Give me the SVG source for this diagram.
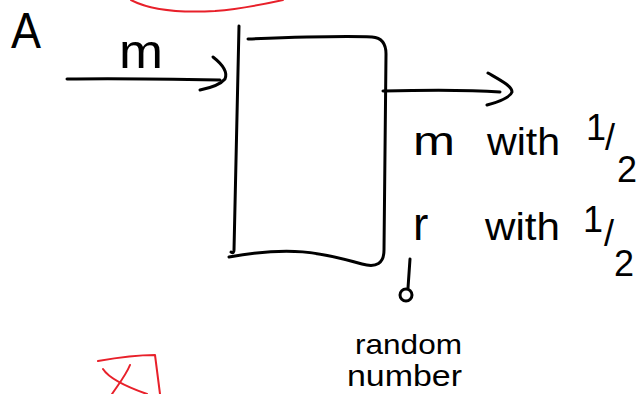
<svg xmlns="http://www.w3.org/2000/svg" width="642" height="394" viewBox="0 0 642 394">
<style>
.ink{fill:none;stroke:#000;stroke-width:3;stroke-linecap:round;stroke-linejoin:round}
.red{fill:none;stroke:#e8202a;stroke-width:2;stroke-linecap:round;stroke-linejoin:round}
.t{font-family:"Liberation Sans",Arial,sans-serif;fill:#000}
</style>
<rect width="642" height="394" fill="#fff"/>
<g id="scribbles">
<path class="red" d="M131,0 C150,10 180,13 215,11 C240,9 265,4 283,0"/>
<path class="red" d="M98,361 C115,358 140,355 155,355 L160,394"/>
<path class="red" d="M103,369 C110,380 130,388 147,394"/>
<path class="red" d="M130,365 C126,375 118,385 112,394"/>
</g>
<g id="label-A"><text class="t" x="11" y="48" font-size="50" textLength="30" lengthAdjust="spacingAndGlyphs">A</text></g>
<g id="box">
<path class="ink" d="M239,26 L234,250 Q234,254 231,252"/>
<path class="ink" d="M248,39 C300,37 350,36 372,37 Q386,38 386,54 L384,250 Q384,270 362,264 C320,252 290,246 229,257" stroke-width="3.5"/>
</g>
<g id="input-label"><text class="t" x="119" y="68" font-size="48" textLength="44" lengthAdjust="spacingAndGlyphs">m</text></g>
<g id="out1">
<text class="t" x="413" y="155" font-size="40" textLength="42" lengthAdjust="spacingAndGlyphs">m</text>
<text class="t" x="487" y="155" font-size="38" textLength="73" lengthAdjust="spacingAndGlyphs">with</text>
<text class="t" font-size="36"><tspan x="586" y="140">1</tspan><tspan x="605" y="150">/</tspan><tspan x="617" y="182">2</tspan></text>
</g>
<g id="out2">
<text class="t" x="413" y="240" font-size="46">r</text>
<text class="t" x="485" y="240" font-size="38" textLength="75" lengthAdjust="spacingAndGlyphs">with</text>
<text class="t" font-size="36"><tspan x="583" y="232">1</tspan><tspan x="604" y="246">/</tspan><tspan x="614" y="276">2</tspan></text>
</g>
<g id="random-number">
<text class="t" x="355" y="354" font-size="28" textLength="107" lengthAdjust="spacingAndGlyphs">random</text>
<text class="t" x="347" y="386" font-size="29" textLength="115" lengthAdjust="spacingAndGlyphs">number</text>
</g>
<g id="connectors">
<path class="ink" d="M67,79 C120,78 170,79 220,80"/>
<path class="ink" d="M213,57 C222,64 228,72 225,79 C220,85 210,88 200,90"/>
<path class="ink" d="M383,91 C420,90 460,89 500,92"/>
<path class="ink" d="M488,73 C500,80 512,86 512,92 C510,98 498,102 487,105"/>
<path class="ink" d="M410,259 L408,288"/>
<circle class="ink" cx="406" cy="295" r="6"/>
</g>
</svg>
